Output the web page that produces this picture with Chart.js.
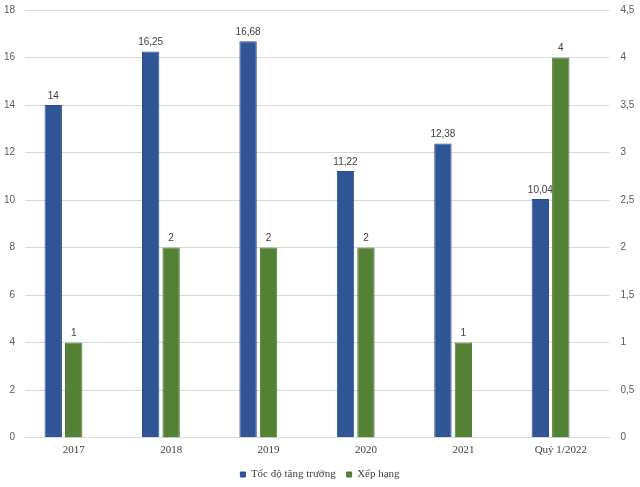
<!DOCTYPE html>
<html>
<head>
<meta charset="utf-8">
<script src="https://cdn.jsdelivr.net/npm/chart.js@4.4.1/dist/chart.umd.min.js"></script>
<style>
  html, body { margin: 0; padding: 0; background: #fff; }
  #wrap { width: 640px; height: 487px; }
</style>
</head>
<body>
<div id="wrap"><canvas id="chart" width="640" height="487"></canvas></div>
<script>
const categories = ["2017", "2018", "2019", "2020", "2021", "Quý 1/2022"]
const growthRate = [14, 16.25, 16.68, 11.22, 12.38, 10.04]
const ranking = [1, 2, 2, 2, 1, 4]
const spacer = [null, null, null, null, null, null]

const fmt = (v) => String(v).replace(".", ",")

// Draw value labels above each bar
const valueLabels = {
  id: "valueLabels",
  afterDatasetsDraw: (chart) => {
    const ctx = chart.ctx
    ctx.save()
    ctx.font = "10px 'Liberation Sans', sans-serif"
    ctx.fillStyle = "#404040"
    ctx.textAlign = "center"
    ctx.textBaseline = "bottom"
    chart.data.datasets.forEach((ds, i) => {
      if (!ds.label) return
      const meta = chart.getDatasetMeta(i)
      meta.data.forEach((bar, j) => {
        if (ds.data[j] == null) return
        ctx.fillText(fmt(ds.data[j]), bar.x, bar.y - 4)
      })
    })
    ctx.restore()
  },
}

new Chart(document.getElementById("chart").getContext("2d"), {
  type: "bar",
  data: {
    labels: categories,
    datasets: [
      {
        label: "Tốc độ tăng trưởng",
        data: growthRate,
        yAxisID: "y",
        backgroundColor: "#2F5597",
        borderColor: "#2a4d8a",
        borderWidth: 1,
        categoryPercentage: 0.63,
        barPercentage: 0.85,
      },
      {
        label: "Xếp hạng",
        data: ranking,
        yAxisID: "y1",
        backgroundColor: "#548235",
        borderColor: "#4c7830",
        borderWidth: 1,
        categoryPercentage: 0.63,
        barPercentage: 0.85,
      },
      {
        label: "",
        data: spacer,
        yAxisID: "y",
        categoryPercentage: 0.63,
        barPercentage: 0.85,
      },
    ],
  },
  options: {
    responsive: false,
    animation: false,
    layout: { padding: { top: 10, left: 0, right: 0, bottom: -3 } },
    plugins: {
      tooltip: { enabled: false },
      legend: {
        position: "bottom",
        labels: {
          filter: (item) => item.text !== "",
          boxWidth: 5,
          boxHeight: 5,
          padding: 11,
          color: "#404040",
          font: { family: "'Liberation Serif', serif", size: 11 },
        },
      },
    },
    scales: {
      x: {
        grid: { display: false, drawTicks: false },
        border: { display: true, color: "#d9d9d9" },
        ticks: {
          color: "#404040",
          padding: 6,
          font: { family: "'Liberation Serif', serif", size: 11 },
          maxRotation: 0,
        },
        afterFit: (scale) => { scale.height = 20.5 },
      },
      y: {
        position: "left",
        min: 0,
        max: 18,
        border: { display: false },
        grid: { color: "#d9d9d9", drawTicks: false },
        ticks: {
          stepSize: 2,
          padding: 10,
          color: "#595959",
          font: { family: "'Liberation Sans', sans-serif", size: 10 },
        },
        afterFit: (scale) => {
          scale.width = 25
          scale.paddingTop = 0
          scale.paddingBottom = 0
        },
      },
      y1: {
        position: "right",
        min: 0,
        max: 4.5,
        border: { display: false },
        grid: { display: false, drawTicks: false },
        ticks: {
          stepSize: 0.5,
          padding: 11,
          color: "#595959",
          font: { family: "'Liberation Sans', sans-serif", size: 10 },
          callback: (v) => fmt(v),
        },
        afterFit: (scale) => {
          scale.width = 30.5
          scale.paddingTop = 0
          scale.paddingBottom = 0
        },
      },
    },
  },
  plugins: [valueLabels],
})
</script>
</body>
</html>
